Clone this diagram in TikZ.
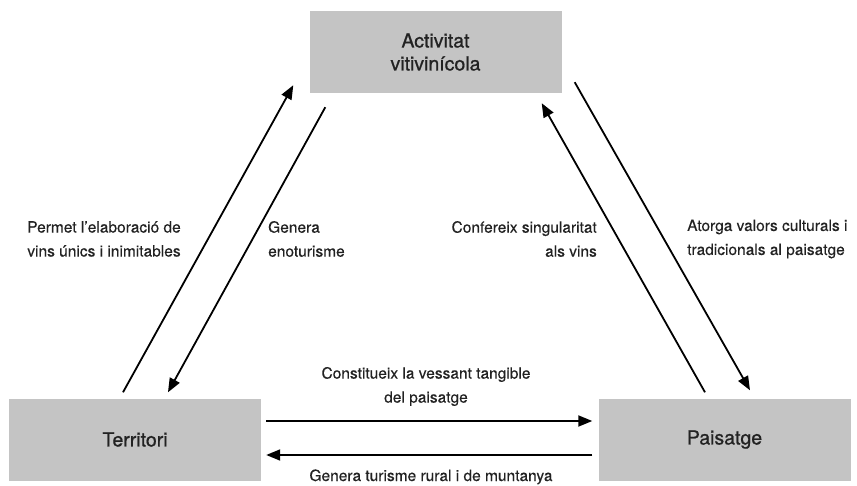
\documentclass[tikz,border=0pt]{standalone}
\usepackage{fontspec}
\setmainfont{TeX Gyre Heros}
\newfontfamily\boxfont[FakeBold=0.8]{TeX Gyre Heros}
\newfontfamily\labelfont[FakeBold=0.3]{TeX Gyre Heros}
\usetikzlibrary{arrows.meta}
\definecolor{boxgray}{RGB}{196,196,196}
\definecolor{textgray}{RGB}{34,34,34}
\tikzstyle{box-node}=[fill=boxgray,rectangle,minimum width=252pt,minimum height=82pt,align=center,text=textgray,font=\boxfont\fontsize{19.5}{23}\selectfont]
\tikzstyle{label-node}=[text=textgray,inner sep=0pt,font=\labelfont\fontsize{15.5}{24}\selectfont]
\tikzstyle{link-arrow}=[line width=1.8pt,-{Triangle[length=14pt,width=11pt]}]

\begin{document}
\begin{tikzpicture}[x=1pt,y=1pt]
        \useasboundingbox (0,0) rectangle (857,485);
        \begin{scope}
            \node[box-node] at (435.5,433) (act) {Activitat\\vitivinícola};
            \node[box-node] at (135,45.5) (terr) {Territori};
            \node[box-node] at (724.5,45.5) (pais) {Paisatge};

            \node[label-node,align=center] at (104,246) (l-permet) {Permet l’elaboració de\\vins únics i inimitables};
            \node[label-node,align=left,anchor=west] at (268,246) (l-enotur) {Genera\\enoturisme};
            \node[label-node,align=right,anchor=east] at (597,246) (l-confer) {Confereix singularitat\\als vins};
            \node[label-node,align=left,anchor=west] at (687,246) (l-atorga) {Atorga valors culturals i\\tradicionals al paisatge};
            \node[label-node,align=center] at (426,98.5) (l-constit) {Constitueix la vessant tangible\\del paisatge};
            \node[label-node,anchor=base] at (431,4) (l-rural) {Genera turisme rural i de muntanya};

            \draw[link-arrow] ([shift={(-12,6)}]terr.north) -- ([shift={(-16,8)}]act.south west);
            \draw[link-arrow] ([shift={(16,-14)}]act.south west) -- ([shift={(33,6)}]terr.north);
            \draw[link-arrow] ([shift={(-19.5,6)}]pais.north) -- ([shift={(-20,-10)}]act.south east);
            \draw[link-arrow] ([shift={(13,11)}]act.south east) -- ([shift={(25.5,8)}]pais.north);
            \draw[link-arrow] ([shift={(5,18.5)}]terr.east) -- ([shift={(-6,18.5)}]pais.west);
            \draw[link-arrow] ([shift={(-6,-15.5)}]pais.west) -- ([shift={(5,-15.5)}]terr.east);
        \end{scope}
\end{tikzpicture}
\end{document}
